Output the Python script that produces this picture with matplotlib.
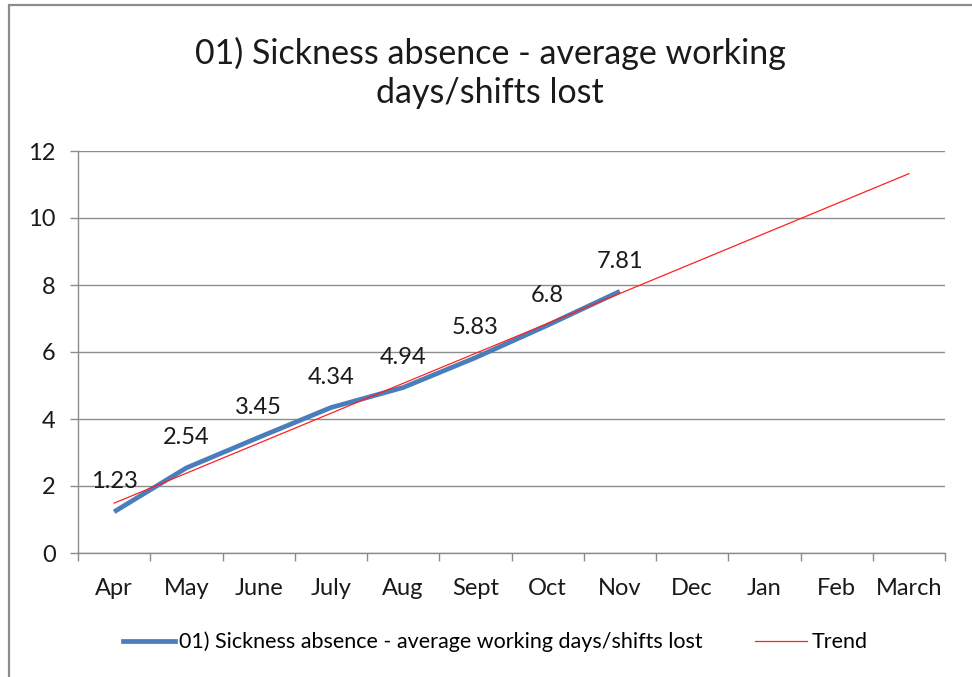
import numpy as np
import matplotlib
matplotlib.use('Agg')
import matplotlib.pyplot as plt
from matplotlib.lines import Line2D
from matplotlib.patches import Rectangle

plt.rcParams['font.family'] = ['Lato', 'DejaVu Sans']

months = ['Apr', 'May', 'June', 'July', 'Aug', 'Sept', 'Oct', 'Nov', 'Dec', 'Jan', 'Feb', 'March']
days_lost = [1.23, 2.54, 3.45, 4.34, 4.94, 5.83, 6.8, 7.81]
series_name = '01) Sickness absence - average working days/shifts lost'
title = '01) Sickness absence - average working\ndays/shifts lost'

fig = plt.figure(figsize=(9.72, 6.77), dpi=100)
ax = fig.add_axes([78/972, 1-553/677, (945-78)/972, (553-151)/677])

# outer chart border (cropped on right/bottom)
fig.patches.append(Rectangle((9/972, -0.05), 1.2, (672/677)+0.05, transform=fig.transFigure,
                             fill=False, edgecolor='#8c8c8c', linewidth=1.6))

x = np.arange(len(days_lost))
xall = np.arange(len(months))

# linear trend like Excel, extended to all months
k, b = np.polyfit(x, days_lost, 1)
ax.plot(x, days_lost, color='#4a7ebb', linewidth=3.4, solid_capstyle='butt', zorder=3)
ax.plot(xall, k*xall+b, color='#ff2020', linewidth=0.9, zorder=4)

for xi, v in zip(x, days_lost):
    ax.annotate(f'{v:g}', (xi, v), xytext=(0, 14), textcoords='offset points',
                ha='center', va='bottom', fontsize=17, color='#1a1a1a')

ax.set_xlim(-0.5, len(months)-0.5)
ax.set_ylim(0, 12)
ax.set_yticks(range(0, 13, 2))
ax.set_xticks(xall)
ax.set_xticklabels(months)
ax.set_xticks(np.arange(-0.5, len(months)), minor=True)
ax.tick_params(axis='x', which='major', length=0, pad=18, labelsize=17, colors='#1a1a1a')
ax.tick_params(axis='x', which='minor', length=6, color='#8c8c8c', width=1)
ax.tick_params(axis='y', length=6, width=1, labelsize=17, pad=10, colors='#8c8c8c', labelcolor='#1a1a1a')
ax.yaxis.grid(True, color='#8c8c8c', linewidth=1)
ax.set_axisbelow(True)
for s in ['top', 'right']:
    ax.spines[s].set_visible(False)
for s in ['left', 'bottom']:
    ax.spines[s].set_color('#8c8c8c')
    ax.spines[s].set_linewidth(1)

fig.text(490/972, 1-73/677, title, ha='center', va='center', fontsize=24.5,
         color='#1a1a1a', linespacing=1.3)

handles = [Line2D([], [], color='#4a7ebb', linewidth=3.4),
           Line2D([], [], color='#ff2020', linewidth=0.9)]
fig.legend(handles, [series_name, 'Trend'], loc='center', bbox_to_anchor=(495/972, 1-642/677),
           ncol=2, frameon=False, fontsize=15.5, handlelength=2.4, handletextpad=0.2,
           columnspacing=2.45)

fig.savefig('out.png', dpi=100, facecolor='white')
